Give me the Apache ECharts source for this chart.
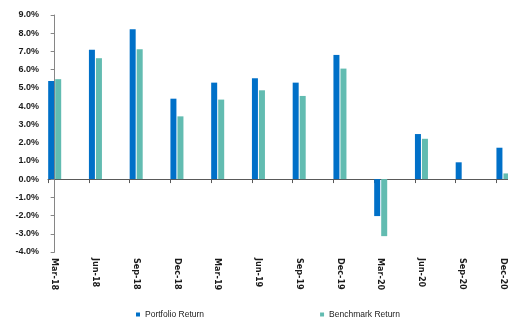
<!DOCTYPE html>
<html>
<head>
<meta charset="utf-8">
<script src="https://cdn.jsdelivr.net/npm/echarts@6/dist/echarts.min.js"></script>
<style>
  html, body { margin: 0; padding: 0; background: #fff; }
  #chart { width: 508px; height: 320px; }
</style>
</head>
<body>
<div id="chart"></div>
<script>
// quarters on the x axis
var categories = ['Mar-18', 'Jun-18', 'Sep-18', 'Dec-18', 'Mar-19', 'Jun-19',
  'Sep-19', 'Dec-19', 'Mar-20', 'Jun-20', 'Sep-20', 'Dec-20']
// returns in %
var portfolioReturn = [5.38, 7.09, 8.22, 4.41, 5.29, 5.53, 5.29, 6.81, -2.03, 2.47, 0.92, 1.72]
var benchmarkReturn = [5.48, 6.63, 7.12, 3.44, 4.36, 4.87, 4.56, 6.06, -3.13, 2.21, 0, 0.31]
var yTicks = [-4, 9, 1] // min, max, step

var chart = echarts.init(document.getElementById('chart'))

// bars sit just right of each category tick (Excel date-axis look)
var shift = 0.164
var xMin = -shift
var xMax = 11.124
var idx = categories.map(function (c, i) { return i })

var option = {
  backgroundColor: '#fff',
  animation: false,
  grid: { left: 48, right: 0, top: 15, bottom: 68 },
  legend: {
    left: 131,
    top: 305,
    icon: 'rect',
    itemWidth: 4,
    itemHeight: 4,
    itemGap: 116,
    textStyle: { fontSize: 8.5, color: '#1a1a1a', fontFamily: 'Liberation Sans, Arial, sans-serif' },
    data: ['Portfolio Return', 'Benchmark Return']
  },
  xAxis: [
    {
      // labels at the bottom
      type: 'value',
      position: 'bottom',
      min: xMin,
      max: xMax,
      axisLine: { show: false, onZero: false },
      axisTick: { show: false },
      splitLine: { show: false },
      axisLabel: {
        customValues: idx,
        rotate: -90,
        margin: 6,
        fontSize: 9,
        fontWeight: 'bold',
        color: '#1a1a1a',
        fontFamily: 'Liberation Sans Narrow, DejaVu Sans Condensed, Arial, sans-serif',
        formatter: function (v) { return categories[Math.round(v)] }
      }
    },
    {
      // line + ticks on zero
      type: 'value',
      position: 'top',
      min: xMin,
      max: xMax,
      axisLine: { show: true, onZero: true, lineStyle: { color: '#595959', width: 1 } },
      axisTick: {
        show: true,
        inside: true,
        length: 4,
        customValues: idx.map(function (i) { return i - shift }),
        lineStyle: { color: '#595959' }
      },
      axisLabel: { show: false },
      splitLine: { show: false }
    }
  ],
  yAxis: {
    type: 'value',
    min: yTicks[0],
    max: yTicks[1],
    interval: yTicks[2],
    axisLine: { show: true, lineStyle: { color: '#868686' } },
    axisTick: { show: true, length: 4, lineStyle: { color: '#868686' } },
    splitLine: { show: false },
    axisLabel: {
      margin: 9,
      fontSize: 9,
      fontWeight: 'bold',
      color: '#1a1a1a',
      fontFamily: 'Liberation Sans, Arial, sans-serif',
      formatter: function (v) { return v.toFixed(1) + '%' }
    }
  },
  series: [
    {
      name: 'Portfolio Return',
      type: 'bar',
      xAxisIndex: 1,
      barWidth: 6,
      barGap: '17%',
      itemStyle: { color: '#0070C8' },
      data: portfolioReturn.map(function (v, i) { return [i, v] })
    },
    {
      name: 'Benchmark Return',
      type: 'bar',
      xAxisIndex: 1,
      barWidth: 6,
      barGap: '17%',
      itemStyle: { color: '#62BCB1' },
      data: benchmarkReturn.map(function (v, i) { return [i, v] })
    }
  ]
}

chart.setOption(option)
</script>
</body>
</html>
